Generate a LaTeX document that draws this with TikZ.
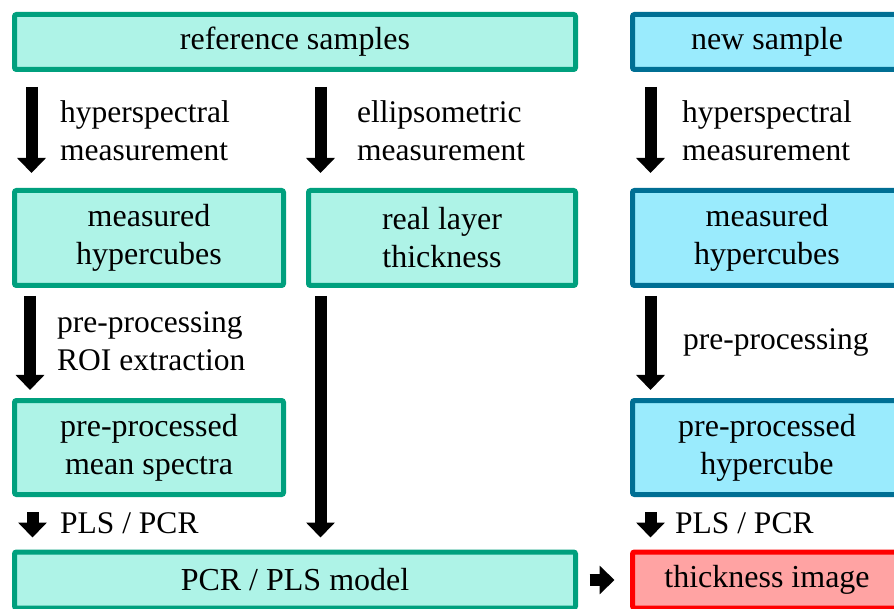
\documentclass[tikz,border=0pt]{standalone}
\usepackage{fontspec}
\setmainfont{Liberation Serif}
\newfontfamily\diagfont{Liberation Serif}
\usepackage{tikz}
\usetikzlibrary{arrows.meta,positioning}

\definecolor{refline}{HTML}{00A07E}
\definecolor{reffill}{HTML}{AEF3E7}
\definecolor{newline}{HTML}{006F94}
\definecolor{newfill}{HTML}{9AEBFD}
\definecolor{resline}{HTML}{FF0000}
\definecolor{resfill}{HTML}{FFA3A3}

\tikzset{
  box/.style={draw, line width=5pt, rounded corners=2pt, align=center,
    inner sep=0pt, font=\diagfont\fontsize{32}{38}\selectfont},
  refbox/.style={box, draw=refline, fill=reffill},
  newbox/.style={box, draw=newline, fill=newfill},
  resbox/.style={box, draw=resline, fill=resfill},
  lbl/.style={anchor=west, align=left, inner sep=0pt, font=\diagfont\fontsize{31.5}{38}\selectfont},
  bigarrow/.style={line width=12pt, -{Triangle[width=28pt,length=15pt]}}
}

\begin{document}
\begin{tikzpicture}[x=1pt,y=-1pt]
  \useasboundingbox (0,0) rectangle (894,609);
  \begin{scope}
  \clip (0,0) rectangle (894,609);
  % reference side
  \node[refbox, minimum width=561pt, minimum height=55pt] (refs) at (295,42) {reference samples};
  \node[refbox, minimum width=269pt, minimum height=95pt] (measL) at (149,238) {measured\\hypercubes};
  \node[refbox, minimum width=267pt, minimum height=95pt] (thick) at (442,238) {real layer\\thickness};
  \node[refbox, minimum width=269pt, minimum height=94pt] (ppL) at (149,447.5) {pre-processed\\mean spectra};
  \node[refbox, minimum width=561pt, minimum height=56pt] (model) at (295,580) {PCR / PLS model};
  % new sample side
  \node[newbox, minimum width=269pt, minimum height=55pt] (newsmp) at (767,42) {new sample};
  \node[newbox, minimum width=269pt, minimum height=95pt] (measR) at (767,238) {measured\\hypercubes};
  \node[newbox, minimum width=269pt, minimum height=94pt] (ppR) at (767,447.5) {pre-processed\\hypercube};
  \node[resbox, minimum width=269pt, minimum height=56pt] (img) at (767,580) {thickness image};
  \end{scope}

  % arrows
  \draw[bigarrow, shorten <=15pt, shorten >=15pt]
    ([xshift=19.5pt]refs.south west) -- ([xshift=19.5pt]measL.north west);
  \draw[bigarrow, shorten <=15pt, shorten >=15pt]
    ([xshift=14.5pt]thick.north west |- refs.south) -- ([xshift=14.5pt]thick.north west);
  \draw[bigarrow, shorten <=15pt, shorten >=15pt]
    ([xshift=20.5pt]newsmp.south west) -- ([xshift=20.5pt]measR.north west);
  \draw[bigarrow, shorten <=8pt, shorten >=8pt]
    ([xshift=18pt]measL.south west) -- ([xshift=18pt]ppL.north west);
  \draw[bigarrow, shorten <=8pt, shorten >=12pt]
    ([xshift=14.5pt]thick.south west) -- ([xshift=14.5pt]thick.south west |- model.north);
  \draw[bigarrow, shorten <=8pt, shorten >=8pt]
    ([xshift=20.5pt]measR.south west) -- ([xshift=20.5pt]ppR.north west);
  \draw[bigarrow, shorten <=15pt, shorten >=12pt]
    ([xshift=20.5pt]ppL.south west) -- ([xshift=20.5pt]ppL.south west |- model.north);
  \draw[bigarrow, shorten <=15pt, shorten >=12pt]
    ([xshift=20.5pt]ppR.south west) -- ([xshift=20.5pt]ppR.south west |- img.north);
  \draw[bigarrow, shorten <=11.5pt, shorten >=15.5pt]
    (model.east) -- (img.west);

  % labels
  \node[lbl] (hmL) at (60,131) {hyperspectral\\measurement};
  \node[lbl] (em) at (357,131) {ellipsometric\\measurement};
  \node[lbl] (hmR) at (682,131) {hyperspectral\\measurement};
  \node[lbl] (ppLlbl) at (57,341) {pre-processing\\ROI extraction};
  \node[lbl] (ppRlbl) at (683,342) {pre-processing};
  \node[lbl] (plsL) at (60,523) {PLS / PCR};
  \node[lbl] (plsR) at (675,523) {PLS / PCR};
\end{tikzpicture}
\end{document}
